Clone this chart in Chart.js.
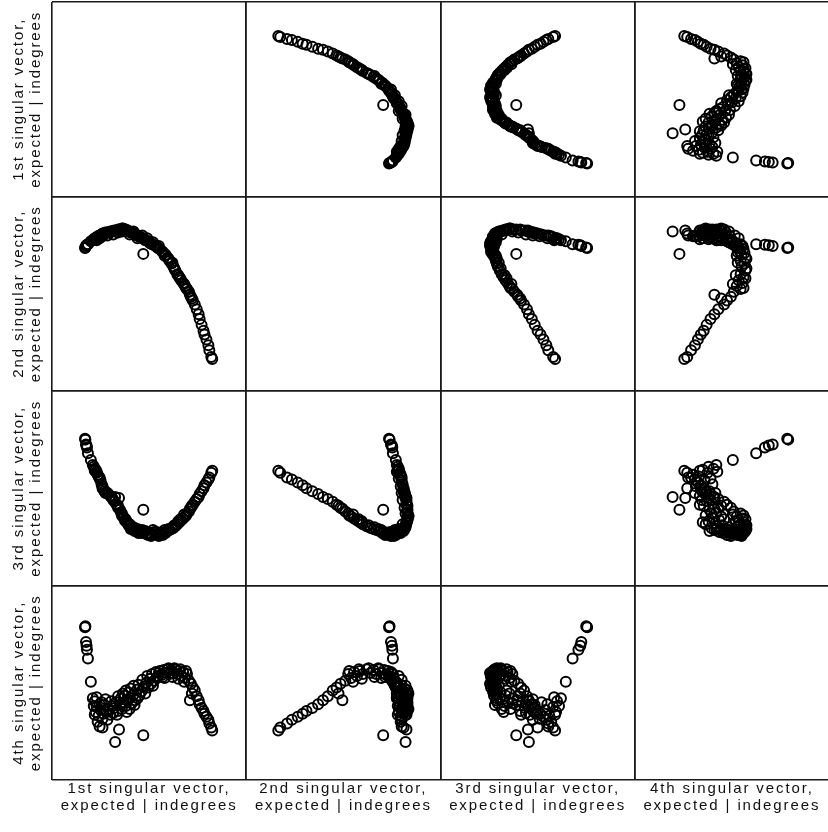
<!DOCTYPE html>
<html>
<head>
<meta charset="utf-8">
<title>Scatterplot matrix of singular vectors</title>
<script src="https://cdn.jsdelivr.net/npm/chart.js@4.4.0/dist/chart.umd.min.js"></script>
<style>
  html, body { margin: 0; padding: 0; background: #fff; overflow: hidden; }
  #wrap { width: 828px; height: 832px; overflow: hidden; }
  canvas { display: block; }
</style>
</head>
<body>
<div id="wrap"><canvas id="matrix" width="829" height="832"></canvas></div>
<script>
// Components of the first four singular vectors (expected | indegrees), one entry per node.
const sv1 = [17.0, 17.2, 17.5, 17.8, 18.0, 18.5, 20.0, 21.0, 21.5, 22.0, 22.0, 22.5, 23.0, 23.5, 24.0, 24.5,
  25.0, 25.5, 26.0, 26.5, 27.0, 27.5, 28.0, 29.0, 30.0, 30.5, 31.0, 32.0, 32.5, 33.0, 33.5, 34.0,
  34.5, 35.0, 35.5, 36.0, 36.5, 37.0, 37.5, 38.0, 38.5, 39.0, 39.5, 40.0, 40.5, 41.0, 42.0, 42.5,
  43.0, 44.0, 44.5, 45.0, 46.0, 47.0, 47.5, 48.0, 48.5, 49.5, 50.5, 51.0, 51.5, 52.5, 53.5, 54.0,
  54.5, 55.5, 56.5, 57.0, 57.5, 58.5, 59.5, 60.0, 60.5, 61.5, 62.5, 63.0, 63.5, 64.5, 65.5, 66.0,
  66.5, 67.5, 68.5, 69.0, 69.5, 70.5, 71.0, 71.5, 72.5, 73.5, 74.5, 75.5, 76.0, 77.0, 78.0, 78.5,
  79.5, 80.5, 81.0, 82.0, 82.5,
  23.0, 24.5, 26.0, 28.5, 31.5, 34.0, 36.0, 38.0, 40.0, 42.0, 44.0, 46.5, 49.0, 52.0, 55.0, 58.0,
  62.0, 65.0, 68.0, 72.0];
const sv2 = [73.5, 73.8, 74.5, 75.0, 75.2, 75.5, 77.0, 77.5, 78.0, 78.5, 78.0, 78.5, 79.0, 79.5, 79.5, 80.0,
  80.0, 80.5, 81.0, 81.0, 81.0, 81.5, 81.5, 81.5, 82.0, 82.0, 82.0, 82.5, 82.0, 82.5, 82.5, 83.0,
  82.5, 83.0, 83.0, 83.5, 83.5, 83.0, 83.0, 82.5, 82.5, 82.5, 82.0, 82.0, 81.5, 81.5, 81.0, 81.0,
  80.5, 80.0, 79.5, 79.5, 79.0, 70.5, 78.0, 77.5, 77.5, 77.0, 76.0, 76.0, 75.5, 75.0, 74.5, 74.0,
  73.5, 73.0, 72.0, 71.5, 71.0, 70.0, 68.5, 68.0, 67.0, 65.5, 64.0, 63.0, 62.0, 60.0, 58.5, 58.0,
  57.0, 55.5, 54.0, 53.0, 52.5, 51.0, 49.5, 48.5, 46.5, 44.5, 42.0, 39.5, 37.0, 34.0, 31.0, 29.0,
  26.5, 23.5, 21.0, 17.5, 16.5,
  77.5, 78.5, 79.5, 80.0, 80.5, 81.5, 82.0, 83.0, 80.5, 82.0, 78.5, 80.0, 78.5, 76.5, 74.5, 69.5,
  66.0, 59.5, 55.0, 47.5];
const sv3 = [75.5, 75.0, 72.5, 72.0, 71.0, 68.0, 64.5, 62.0, 61.0, 60.0, 59.0, 59.5, 58.0, 57.0, 56.0, 55.5,
  54.0, 52.0, 50.0, 49.5, 48.5, 47.5, 48.0, 47.0, 46.0, 45.5, 45.0, 43.5, 45.5, 42.0, 41.5, 41.0,
  45.0, 39.0, 37.5, 36.0, 35.5, 35.0, 33.5, 33.0, 32.5, 32.0, 31.0, 30.5, 29.0, 29.5, 29.0, 28.0,
  28.5, 28.0, 27.0, 27.5, 27.0, 39.0, 27.5, 28.0, 26.5, 26.0, 27.0, 25.5, 26.0, 27.5, 26.5, 27.5,
  26.0, 27.0, 26.5, 26.0, 27.5, 27.0, 28.0, 29.0, 28.5, 29.0, 29.5, 31.0, 30.5, 31.5, 32.5, 34.0,
  33.5, 34.5, 35.5, 36.0, 37.0, 38.0, 39.5, 40.0, 41.5, 43.0, 44.5, 45.5, 47.0, 48.5, 50.0, 51.5,
  53.0, 54.5, 55.5, 58.0, 59.0,
  58.5, 55.0, 51.0, 47.5, 44.0, 40.0, 37.0, 34.0, 31.5, 30.0, 29.0, 28.5, 27.0, 28.5, 25.5, 28.5,
  30.0, 33.0, 36.5, 41.0];
const sv4 = [78.5, 79.0, 71.0, 69.0, 67.0, 62.5, 50.5, 42.0, 38.0, 40.5, 33.5, 35.0, 37.5, 30.0, 33.0, 27.5,
  36.0, 40.0, 27.0, 34.0, 38.5, 41.5, 35.0, 36.5, 33.5, 40.5, 38.0, 37.0, 19.5, 40.0, 33.5, 35.5,
  26.0, 38.5, 42.0, 36.5, 44.5, 40.0, 43.5, 38.0, 35.0, 41.5, 45.0, 42.0, 47.0, 39.5, 44.0, 38.5,
  41.0, 46.5, 49.0, 43.5, 45.5, 23.0, 48.0, 44.5, 50.0, 47.5, 52.0, 49.5, 54.5, 51.0, 55.5, 52.5,
  53.5, 56.0, 54.0, 53.0, 56.5, 55.0, 57.0, 57.5, 54.5, 56.5, 55.0, 57.5, 57.0, 54.5, 56.0, 57.0,
  53.5, 55.5, 52.5, 56.0, 54.5, 51.0, 41.0, 49.5, 47.5, 46.0, 43.0, 41.0, 39.0, 37.0, 35.5, 34.0,
  32.5, 31.0, 29.0, 27.0, 25.5,
  42.5, 39.0, 31.5, 31.0, 34.5, 43.0, 39.5, 46.0, 36.5, 48.5, 42.0, 51.5, 53.5, 48.5, 55.0, 52.5,
  53.0, 52.0, 50.5, 44.5];

const variableLabels = [
  ['1st singular vector,', 'expected | indegrees'],
  ['2nd singular vector,', 'expected | indegrees'],
  ['3rd singular vector,', 'expected | indegrees'],
  ['4th singular vector,', 'expected | indegrees']
];

const vectors = [sv1, sv2, sv3, sv4];

// One scatter dataset per off-diagonal cell: column variable on x, row variable on y.
const datasets = [];
for (let row = 0; row < 4; row++) {
  for (let col = 0; col < 4; col++) {
    if (row === col) continue;
    datasets.push({
      xAxisID: 'x' + (col + 1),
      yAxisID: 'y' + (row + 1),
      data: vectors[col].map((v, k) => ({ x: v, y: vectors[row][k] })),
      pointStyle: 'circle',
      pointRadius: 5,
      pointHoverRadius: 5,
      borderWidth: 2,
      borderColor: '#000',
      backgroundColor: 'rgba(0,0,0,0)'
    });
  }
}

const labelFont = { family: '"Liberation Sans", Arial, sans-serif', size: 15, lineHeight: '17px' };

// Each variable gets its own stacked axis; ticks only at the ends so the grid draws the cell frame.
function cellAxis(position, stack, label) {
  return {
    type: 'linear',
    position: position,
    stack: stack,
    stackWeight: 1,
    min: 0,
    max: 100,
    ticks: { display: false, stepSize: 100 },
    grid: { color: '#1a1a1a', lineWidth: 1.6, drawTicks: false },
    border: { display: false },
    title: {
      display: true,
      text: label,
      color: '#111',
      font: labelFont,
      padding: position === 'bottom' ? { top: 0, bottom: 18 } : { top: 10, bottom: 8 }
    }
  };
}

const scales = {};
for (let i = 0; i < 4; i++) scales['x' + (i + 1)] = cellAxis('bottom', 'columns', variableLabels[i]);
// left-hand stacks are placed last-defined first, so define bottom row first
for (let i = 3; i >= 0; i--) scales['y' + (i + 1)] = cellAxis('left', 'rows', variableLabels[i]);

const labelSpacing = {
  id: 'labelSpacing',
  beforeDraw(chart) { chart.ctx.letterSpacing = '1.9px'; }
};

new Chart(document.getElementById('matrix'), {
  type: 'scatter',
  data: { datasets: datasets },
  options: {
    responsive: false,
    animation: false,
    events: [],
    layout: { autoPadding: false, padding: { top: 2, left: 0, right: 0, bottom: 0 } },
    plugins: { legend: { display: false }, tooltip: { enabled: false } },
    scales: scales
  },
  plugins: [labelSpacing]
});
</script>
</body>
</html>
